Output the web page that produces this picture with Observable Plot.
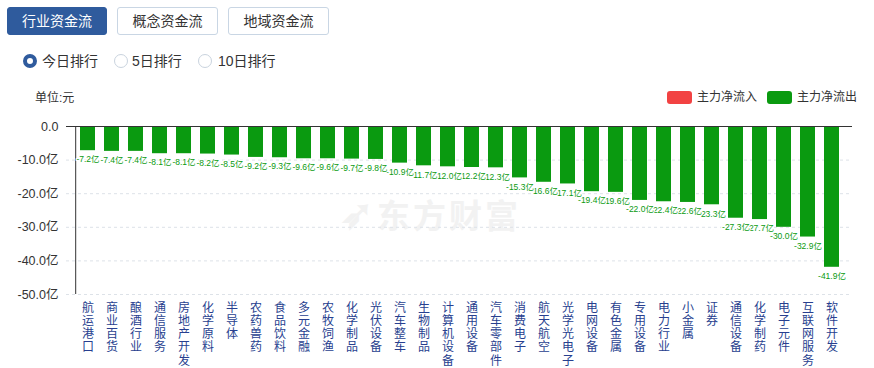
<!DOCTYPE html>
<html>
<head>
<meta charset="utf-8">
<script src="https://cdn.jsdelivr.net/npm/d3@7"></script>
<script src="https://cdn.jsdelivr.net/npm/@observablehq/plot@0.6"></script>
<style>
  body { margin: 0; background: #fff; font-family: "Liberation Sans", "Noto Sans CJK SC", sans-serif; }
  #wrap { position: relative; width: 874px; height: 368px; overflow: hidden; }
  .btn { position: absolute; top: 7px; height: 28px; box-sizing: border-box; border: 1px solid #c9d6e4; border-radius: 3px;
         font-size: 14px; line-height: 26px; text-align: center; color: #333; background: #fff; }
  .btn.on { background: #2f5b9d; border-color: #2f5b9d; color: #fff; }
  .radio { position: absolute; top: 54px; width: 14px; height: 14px; box-sizing: border-box; border-radius: 50%; border: 1px solid #c9d3de; background: #fff; }
  .radio.on { border: 4px solid #2f5b9d; }
  .rlab { position: absolute; top: 52px; font-size: 14px; line-height: 18px; color: #333; }
  .small { position: absolute; font-size: 12px; line-height: 14px; color: #333; }
  .sw { position: absolute; top: 91px; width: 25px; height: 13px; border-radius: 3px; }
  #wm { position: absolute; left: 340px; top: 190px; font-size: 33px; font-weight: bold; color: #f2f2f2; letter-spacing: 3px; white-space: nowrap; }
  #chart { position: absolute; left: 0; top: 110px; }
</style>
</head>
<body>
<div id="wrap">
  <div class="btn on" style="left:7px;width:100px;">行业资金流</div>
  <div class="btn" style="left:117px;width:101px;">概念资金流</div>
  <div class="btn" style="left:228px;width:101px;">地域资金流</div>
  <div class="radio on" style="left:23px;"></div><div class="rlab" style="left:42px;">今日排行</div>
  <div class="radio" style="left:114px;"></div><div class="rlab" style="left:132px;">5日排行</div>
  <div class="radio" style="left:198px;"></div><div class="rlab" style="left:218px;">10日排行</div>
  <div class="small" style="left:35px;top:91px;">单位:元</div>
  <div class="sw" style="left:667px;background:#f24242;"></div><div class="small" style="left:697px;top:90px;">主力净流入</div>
  <div class="sw" style="left:767px;background:#0a9a10;"></div><div class="small" style="left:797px;top:90px;">主力净流出</div>
  <div id="wm"><span style="font-size:40px;">➶</span>东方财富</div>
  <div id="chart"></div>
</div>
<script>
const categories = ["航运港口","商业百货","酿酒行业","通信服务","房地产开发","化学原料","半导体","农药兽药","食品饮料","多元金融","农牧饲渔","化学制品","光伏设备","汽车整车","生物制品","计算机设备","通用设备","汽车零部件","消费电子","航天航空","光学光电子","电网设备","有色金属","专用设备","电力行业","小金属","证券","通信设备","化学制药","电子元件","互联网服务","软件开发"];
const values = [-7.2,-7.4,-7.4,-8.1,-8.1,-8.2,-8.5,-9.2,-9.3,-9.6,-9.6,-9.7,-9.8,-10.9,-11.7,-12.0,-12.2,-12.3,-15.3,-16.6,-17.1,-19.4,-19.6,-22.0,-22.4,-22.6,-23.3,-27.3,-27.7,-30.0,-32.9,-41.9];
const yTicks = [0,-10,-20,-30,-40,-50];

const data = categories.map((c, i) => ({name: c, value: values[i]}));
const green = "#0a9a10";
const font = "Liberation Sans, Noto Sans CJK SC, sans-serif";

const chart = Plot.plot({
  width: 874,
  height: 258,
  marginTop: 16,
  marginBottom: 74,
  marginLeft: 66,
  marginRight: 22,
  style: {background: "transparent", fontFamily: font},
  x: {domain: categories, padding: 0.39, axis: null},
  y: {domain: [-50, 0], axis: null},
  marks: [
    Plot.ruleY(yTicks.filter(d => d !== 0), {stroke: "#dde2e8", strokeDasharray: "3,3"}),
    Plot.barY(data, {x: "name", y: "value", fill: green}),
    Plot.ruleY([0], {stroke: "#333", strokeWidth: 1}),
    Plot.ruleX([0], {x: () => categories[0], dx: -12.3, y1: 0, y2: -50, stroke: "#333"}),
    Plot.text(yTicks, {y: d => d, frameAnchor: "left", textAnchor: "end", dx: -8, fontSize: 12.5, fill: "#333",
      text: d => d === 0 ? "0.0" : d.toFixed(1) + "亿"}),
    Plot.text(data.slice().reverse(), {x: "name", y: "value", dy: 9, fontSize: 8.5, fill: green,
      stroke: "white", strokeWidth: 2.5, paintOrder: "stroke", text: d => d.value.toFixed(1) + "亿"}),
    Plot.text(categories, {x: d => d, frameAnchor: "bottom", lineAnchor: "top", dy: 8, lineHeight: 1.1,
      fontSize: 12, fill: "#283f8f", text: d => [...d].join("\n")})
  ]
});
document.getElementById("chart").appendChild(chart);
</script>
</body>
</html>
